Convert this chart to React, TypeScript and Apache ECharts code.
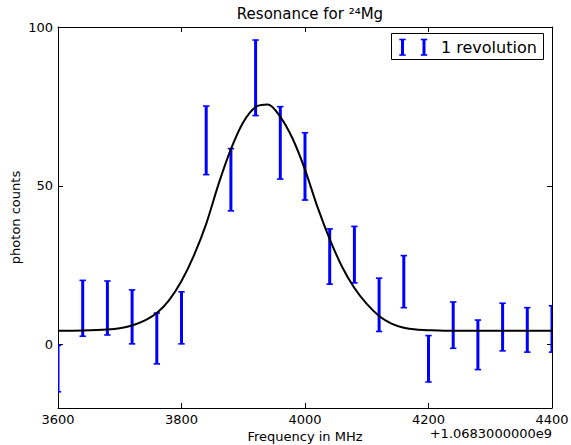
import React, { useEffect, useRef } from "react";
import * as echarts from "echarts";

const frequencies = [3600, 3640, 3680, 3720, 3760, 3800, 3840, 3880, 3920, 3960, 4000, 4040, 4080, 4120, 4160, 4200, 4240, 4280, 4320, 4360, 4400];
const counts = [-7.6, 11.4, 11.5, 8.7, 1.9, 8.4, 64.3, 51.9, 84.0, 63.5, 56.1, 27.7, 28.3, 12.5, 19.8, -4.5, 6.1, -0.1, 5.5, 4.6, 4.9];
const errors = [7.3, 8.8, 8.5, 8.5, 8.0, 8.2, 10.8, 9.8, 11.9, 11.4, 10.6, 8.7, 8.9, 8.4, 8.2, 7.3, 7.3, 7.8, 7.5, 7.0, 7.3];

const fitFreq = [3600, 3640, 3680, 3700, 3720, 3740, 3760, 3780, 3800, 3820, 3840, 3860, 3880, 3900, 3920, 3940, 3960, 3980, 4000, 4020, 4040, 4060, 4080, 4100, 4120, 4140, 4160, 4180, 4200, 4240, 4300, 4400];
const fitValue = [4.3, 4.4, 4.7, 5.1, 6.0, 7.5, 9.9, 14.0, 20.0, 28.0, 38.0, 50.5, 61.5, 70.0, 74.8, 75.6, 71.7, 64.8, 55.1, 43.4, 33.2, 24.5, 17.8, 12.8, 9.0, 6.6, 5.3, 4.7, 4.5, 4.3, 4.3, 4.3];

const xTicks = [3600, 3800, 4000, 4200, 4400];
const yTicks = [0, 50, 100];

const FONT = "DejaVu Sans";

export default function App() {
  const ref = useRef<HTMLDivElement>(null);
  useEffect(() => {
    if (!ref.current) return;
    const chart = echarts.init(ref.current, null, { renderer: "svg" });
    const errData = frequencies.map((f, i) => [f, counts[i] - errors[i], counts[i] + errors[i]]);
    const fitData = fitFreq.map((f, i) => [f, fitValue[i]]);
    const axisCommon = {
      axisLine: { show: true, onZero: false, lineStyle: { color: "#000", width: 1 } },
      splitLine: { show: false },
    };
    const plain = (v: number) => String(v);
    chart.setOption({
      animation: false,
      backgroundColor: "#fff",
      textStyle: { fontFamily: FONT, color: "#000" },
      title: {
        text: "Resonance for \u00b2\u2074Mg",
        left: 305,
        textAlign: "center",
        top: 1,
        textStyle: { fontFamily: FONT, fontSize: 15, fontWeight: "normal", color: "#000" },
      },
      grid: { left: 58, right: 19, top: 27, bottom: 37, outerBoundsMode: "none", containLabel: false },
      xAxis: [
        {
          type: "value",
          min: 3600,
          max: 4400,
          interval: 200,
          position: "bottom",
          name: "Frequency in MHz",
          nameLocation: "middle",
          nameGap: 22,
          nameMoveOverlap: false,
          nameTextStyle: { fontFamily: FONT, fontSize: 13, color: "#000" },
          ...axisCommon,
          axisTick: { show: true, inside: true, length: 5, lineStyle: { color: "#000" }, customValues: xTicks },
          axisLabel: { show: true, margin: 5, fontFamily: FONT, fontSize: 13, color: "#000", customValues: xTicks, formatter: plain },
        },
        {
          type: "value",
          min: 3600,
          max: 4400,
          interval: 200,
          position: "top",
          ...axisCommon,
          axisTick: { show: true, inside: true, length: 5, lineStyle: { color: "#000" }, customValues: xTicks },
          axisLabel: { show: false },
        },
      ],
      yAxis: [
        {
          type: "value",
          min: -20,
          max: 100,
          position: "left",
          name: "photon counts",
          nameLocation: "middle",
          nameGap: 36,
          nameMoveOverlap: false,
          nameTextStyle: { fontFamily: FONT, fontSize: 13, color: "#000" },
          ...axisCommon,
          axisTick: { show: true, inside: true, length: 5, lineStyle: { color: "#000" }, customValues: yTicks },
          axisLabel: { show: true, margin: 5, fontFamily: FONT, fontSize: 13, color: "#000", customValues: yTicks, formatter: plain },
        },
        {
          type: "value",
          min: -20,
          max: 100,
          position: "right",
          ...axisCommon,
          axisTick: { show: true, inside: true, length: 5, lineStyle: { color: "#000" }, customValues: yTicks },
          axisLabel: { show: false },
        },
      ],
      series: [
        {
          name: "1 revolution",
          type: "custom",
          xAxisIndex: 0,
          yAxisIndex: 0,
          clip: true,
          encode: { x: 0, y: [1, 2] },
          data: errData,
          renderItem: (params: any, api: any) => {
            const x = api.value(0);
            const lo = api.coord([x, api.value(1)]);
            const hi = api.coord([x, api.value(2)]);
            const cw = 3.2;
            const style = { stroke: "#0000ff", lineWidth: 3 };
            const capStyle = { stroke: "#0000ff", lineWidth: 1.6 };
            return {
              type: "group",
              children: [
                { type: "line", shape: { x1: lo[0], y1: lo[1], x2: hi[0], y2: hi[1] }, style },
                { type: "line", shape: { x1: lo[0] - cw, y1: lo[1], x2: lo[0] + cw, y2: lo[1] }, style: capStyle },
                { type: "line", shape: { x1: hi[0] - cw, y1: hi[1], x2: hi[0] + cw, y2: hi[1] }, style: capStyle },
              ],
            };
          },
          z: 2,
        },
        {
          name: "fit",
          type: "line",
          xAxisIndex: 0,
          yAxisIndex: 0,
          data: fitData,
          smooth: 0.3,
          showSymbol: false,
          symbol: "none",
          lineStyle: { color: "#000", width: 2 },
          z: 3,
        },
      ],
      graphic: [
        {
          type: "group",
          left: 391,
          top: 33,
          children: [
            { type: "rect", shape: { x: 0.5, y: 0.5, width: 152, height: 26 }, style: { fill: "#fff", stroke: "#000", lineWidth: 1 } },
            { type: "line", shape: { x1: 11.5, y1: 6.5, x2: 11.5, y2: 22 }, style: { stroke: "#0000ff", lineWidth: 3 } },
            { type: "line", shape: { x1: 8.3, y1: 6.5, x2: 14.7, y2: 6.5 }, style: { stroke: "#0000ff", lineWidth: 1.6 } },
            { type: "line", shape: { x1: 8.3, y1: 22, x2: 14.7, y2: 22 }, style: { stroke: "#0000ff", lineWidth: 1.6 } },
            { type: "line", shape: { x1: 33, y1: 6.5, x2: 33, y2: 22 }, style: { stroke: "#0000ff", lineWidth: 3 } },
            { type: "line", shape: { x1: 29.8, y1: 6.5, x2: 36.2, y2: 6.5 }, style: { stroke: "#0000ff", lineWidth: 1.6 } },
            { type: "line", shape: { x1: 29.8, y1: 22, x2: 36.2, y2: 22 }, style: { stroke: "#0000ff", lineWidth: 1.6 } },
            { type: "text", x: 50, y: 14, style: { text: "1 revolution", fontFamily: FONT, fontSize: 16, fill: "#000", verticalAlign: "middle", align: "left" } },
          ],
          z: 10,
        },
        {
          type: "text",
          right: 19,
          top: 427,
          style: { text: "+1.0683000000e9", fontFamily: FONT, fontSize: 13, fill: "#000" },
        },
      ],
    });
    return () => chart.dispose();
  }, []);
  return <div ref={ref} style={{ position: "absolute", left: 0, top: 0, width: 571, height: 445 }} />;
}
